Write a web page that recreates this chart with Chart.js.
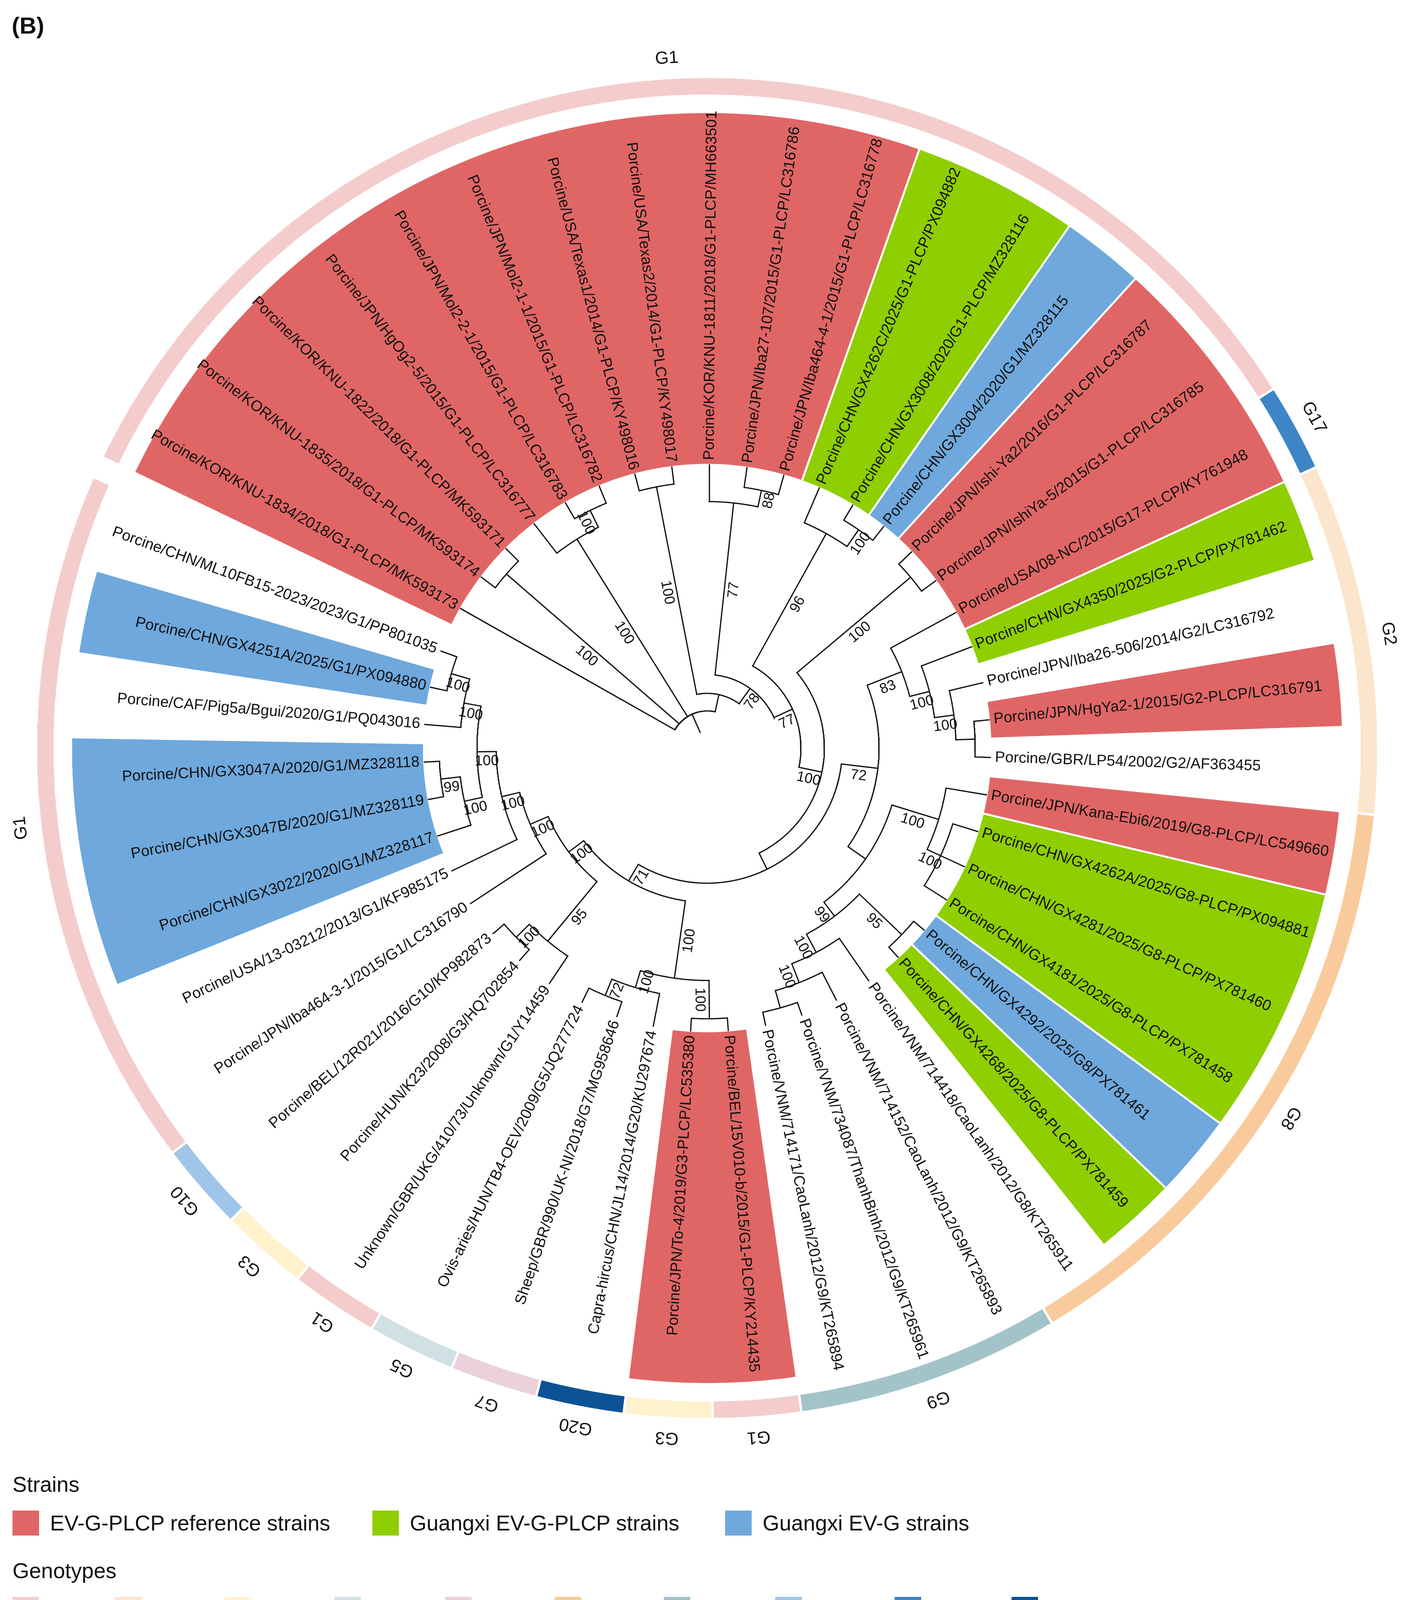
<!DOCTYPE html>
<html>
<head>
<meta charset="utf-8">
<title>EV-G phylogeny (B)</title>
<script src="https://cdn.jsdelivr.net/npm/chart.js@4.4.1/dist/chart.umd.min.js"></script>
<style>
html,body{margin:0;padding:0;background:#ffffff;}
body{width:3609px;height:4172px;position:relative;overflow:hidden;font-family:"Liberation Sans",Arial,sans-serif;color:#111;}
#chartBox{position:absolute;left:0;top:0;width:3609px;height:4172px;}
.lg{position:absolute;white-space:nowrap;font-size:55px;line-height:64px;height:64px;}
.sw{position:absolute;width:68px;height:64px;}
#panel{position:absolute;left:30px;top:34px;font-size:60px;font-weight:bold;line-height:64px;}
</style>
</head>
<body>
<div id="chartBox"><canvas id="tree"></canvas></div>
<div id="panel">(B)</div>
<div id="legend"></div>
<script>
// ---------------- DATA ----------------
const leafNames = [
  "Porcine/KOR/KNU-1834/2018/G1-PLCP/MK593173",
  "Porcine/KOR/KNU-1835/2018/G1-PLCP/MK593174",
  "Porcine/KOR/KNU-1822/2018/G1-PLCP/MK593171",
  "Porcine/JPN/HgOg2-5/2015/G1-PLCP/LC316777",
  "Porcine/JPN/Mol2-2-1/2015/G1-PLCP/LC316783",
  "Porcine/JPN/Mol2-1-1/2015/G1-PLCP/LC316782",
  "Porcine/USA/Texas1/2014/G1-PLCP/KY498016",
  "Porcine/USA/Texas2/2014/G1-PLCP/KY498017",
  "Porcine/KOR/KNU-1811/2018/G1-PLCP/MH663501",
  "Porcine/JPN/Iba27-107/2015/G1-PLCP/LC316786",
  "Porcine/JPN/Iba464-4-1/2015/G1-PLCP/LC316778",
  "Porcine/CHN/GX4262C/2025/G1-PLCP/PX094882",
  "Porcine/CHN/GX3008/2020/G1-PLCP/MZ328116",
  "Porcine/CHN/GX3004/2020/G1/MZ328115",
  "Porcine/JPN/Ishi-Ya2/2016/G1-PLCP/LC316787",
  "Porcine/JPN/IshiYa-5/2015/G1-PLCP/LC316785",
  "Porcine/USA/08-NC/2015/G17-PLCP/KY761948",
  "Porcine/CHN/GX4350/2025/G2-PLCP/PX781462",
  "Porcine/JPN/Iba26-506/2014/G2/LC316792",
  "Porcine/JPN/HgYa2-1/2015/G2-PLCP/LC316791",
  "Porcine/GBR/LP54/2002/G2/AF363455",
  "Porcine/JPN/Kana-Ebi6/2019/G8-PLCP/LC549660",
  "Porcine/CHN/GX4262A/2025/G8-PLCP/PX094881",
  "Porcine/CHN/GX4281/2025/G8-PLCP/PX781460",
  "Porcine/CHN/GX4181/2025/G8-PLCP/PX781458",
  "Porcine/CHN/GX4292/2025/G8/PX781461",
  "Porcine/CHN/GX4268/2025/G8-PLCP/PX781459",
  "Porcine/VNM/714418/CaoLanh/2012/G8/KT265911",
  "Porcine/VNM/714152/CaoLanh/2012/G9/KT265893",
  "Porcine/VNM/734087/ThanhBinh/2012/G9/KT265961",
  "Porcine/VNM/714171/CaoLanh/2012/G9/KT265894",
  "Porcine/BEL/15V010-b/2015/G1-PLCP/KY214435",
  "Porcine/JPN/To-4/2019/G3-PLCP/LC535380",
  "Capra-hircus/CHN/JL14/2014/G20/KU297674",
  "Sheep/GBR/990/UK-NI/2018/G7/MG958646",
  "Ovis-aries/HUN/TB4-OEV/2009/G5/JQ277724",
  "Unknown/GBR/UKG/410/73/Unknown/G1/Y14459",
  "Porcine/HUN/K23/2008/G3/HQ702854",
  "Porcine/BEL/12R021/2016/G10/KP982873",
  "Porcine/JPN/Iba464-3-1/2015/G1/LC316790",
  "Porcine/USA/13-03212/2013/G1/KF985175",
  "Porcine/CHN/GX3022/2020/G1/MZ328117",
  "Porcine/CHN/GX3047B/2020/G1/MZ328119",
  "Porcine/CHN/GX3047A/2020/G1/MZ328118",
  "Porcine/CAF/Pig5a/Bgui/2020/G1/PQ043016",
  "Porcine/CHN/GX4251A/2025/G1/PX094880",
  "Porcine/CHN/ML10FB15-2023/2023/G1/PP801035"
];
// strain highlight per leaf: R = EV-G-PLCP reference, P = Guangxi EV-G-PLCP, B = Guangxi EV-G, '' = none
const leafStrain = ['R','R','R','R','R','R','R','R','R','R','R','P','P','B','R','R','R','P','','R','','R','P','P','P','B','P','','','','','R','R','','','','','','','','','B','B','B','','B',''];
// genotype ring (runs of leaves, 1-based)
const ringLabels    = ['G1','G17','G2','G8','G9','G1','G3','G20','G7','G5','G1','G3','G10','G1'];
const ringFirstLeaf = [1,17,18,22,29,32,33,34,35,36,37,38,39,40];
const ringLastLeaf  = [16,17,21,28,31,32,33,34,35,36,37,38,39,47];
// tree: leaves are leaf numbers, internal labels = bootstrap support, value after ':' = node depth (px from centre)
const treeNewick = "(1,(2,3)100:680,(4,(5,6)100:678)100:630,((7,8)100:681,((9,(10,11)88:674)77:631,((12,(13,14)100:680)96:628,((15,16)100:680,(((17,(18,(19,(20,21):686)100:637)100:587)83:535,((22,(23,24,25)100:658)100:620,((26,27)95:690,(28,(29,(30,31):691)100:645)100:593)99:540):495)72:440,(((32,33)100:693,(34,(35,36)72:685)100:640)100:595,((37,(38,39)100:688)95:641,(40,(41,((42,(43,44)99:686)100:636,(45,(46,47)100:682)100:633)100:589)100:540)100:493)100:443)71:395):346)100:300)77:240)78:188):140):95";
// legend
const strainKeys   = ['R','P','B'];
const strainLabels = ['EV-G-PLCP reference strains','Guangxi EV-G-PLCP strains','Guangxi EV-G strains'];
const strainColors = ['#E06666','#8FCE00','#6FA8DC'];
const genotypeKeys   = ['G1','G2','G3','G5','G7','G8','G9','G10','G17','G20'];
const genotypeColors = ['#F4CCCC','#FCE5CD','#FFF2CC','#D0E0E3','#EAD1DC','#F9CB9C','#A2C4C9','#9FC5E8','#3D85C6','#0B5394'];

// ---------------- LAYOUT ----------------
const W = 3609, H = 4172;
const CX = 1810, CY = 1915;
const TIP_R = 725, LABEL_R = 737, STUB_R = 44;
const WEDGE_IN = 725, WEDGE_OUT = 1628, RING_IN = 1670, RING_OUT = 1718, GLABEL_R = 1768;
const FIRST_ANGLE = 150.5, STEP = 7.62;
const FONT = '"Liberation Sans", Arial, sans-serif';

function leafAngle(k){ return FIRST_ANGLE - STEP*(k-1); }
function pt(r, a){ const t = a*Math.PI/180; return {x: CX + r*Math.cos(t), y: CY - r*Math.sin(t)}; }
function arcPts(r, a1, a2){
  const n = Math.max(2, Math.ceil(Math.abs(a2-a1)/0.4)+1), out = [];
  for (let i=0;i<n;i++) out.push(pt(r, a1 + (a2-a1)*i/(n-1)));
  return out;
}
function parseNewick(s){
  let i = 0;
  function node(){
    const n = {children: []};
    if (s[i] === '('){
      i++; n.children.push(node());
      while (s[i] === ','){ i++; n.children.push(node()); }
      i++;
    }
    let lab = '';
    while (i < s.length && !':,()'.includes(s[i])) lab += s[i++];
    n.label = lab;
    if (s[i] === ':'){ i++; let v=''; while (i < s.length && !',()'.includes(s[i])) v += s[i++]; n.r = parseFloat(v); }
    return n;
  }
  return node();
}
const root = parseNewick(treeNewick);
function place(n){
  if (!n.children.length){ n.leaf = parseInt(n.label,10); n.a = leafAngle(n.leaf); if (n.r === undefined) n.r = TIP_R; return; }
  n.children.forEach(place);
  n.a = (n.children[0].a + n.children[n.children.length-1].a)/2;
}
place(root);

const GAP = {x:null, y:null};
const treePts = [];
const supportLabels = [];
function addSeg(ps){ ps.forEach(p => treePts.push(p)); treePts.push(GAP); }
function walk(n, parentR){
  addSeg([pt(parentR, n.a), pt(n.r, n.a)]);
  if (n.children.length){
    if (n.label) supportLabels.push({r:(parentR + n.r)/2, a:n.a, text:n.label});
    addSeg(arcPts(n.r, n.children[0].a, n.children[n.children.length-1].a));
    n.children.forEach(c => walk(c, n.r));
  }
}
walk(root, STUB_R);

function sectorPolygon(rIn, rOut, aHi, aLo){
  const outer = arcPts(rOut, aHi, aLo);
  const inner = arcPts(rIn, aLo, aHi);
  const poly = outer.concat(inner);
  poly.push(outer[0]);
  return poly;
}

const datasets = [];
datasets.push({label:'tree', data: treePts, showLine:true, borderColor:'#111111', borderWidth:3.2,
  borderCapStyle:'square', pointRadius:0, fill:false, spanGaps:false, order:0});

// strain highlight wedges: contiguous runs of identical strain colour
let k = 0;
while (k < leafStrain.length){
  const s = leafStrain[k]; let e = k;
  while (e+1 < leafStrain.length && leafStrain[e+1] === s) e++;
  if (s){
    const col = strainColors[strainKeys.indexOf(s)];
    datasets.push({label:'wedge', data: sectorPolygon(WEDGE_IN, WEDGE_OUT, leafAngle(k+1)+STEP/2, leafAngle(e+1)-STEP/2),
      showLine:true, fill:'shape', backgroundColor: col, borderColor:'#ffffff', borderWidth:5, borderJoinStyle:'miter',
      pointRadius:0, order:3});
  }
  k = e+1;
}
// genotype ring
ringLabels.forEach((g, i) => {
  const col = genotypeColors[genotypeKeys.indexOf(g)];
  datasets.push({label:'ring', data: sectorPolygon(RING_IN, RING_OUT, leafAngle(ringFirstLeaf[i])+STEP/2, leafAngle(ringLastLeaf[i])-STEP/2),
    showLine:true, fill:'shape', backgroundColor: col, borderColor:'#ffffff', borderWidth:6, borderJoinStyle:'miter',
    pointRadius:0, order:3});
});

function isLeftHalf(a){ let t = ((a % 360) + 360) % 360; return t > 90 && t < 270; }

const textPlugin = {
  id: 'treeText',
  afterDatasetsDraw(chart){
    const ctx = chart.ctx, xs = chart.scales.x, ys = chart.scales.y;
    const px = p => ({x: xs.getPixelForValue(p.x), y: ys.getPixelForValue(p.y)});
    ctx.save();
    ctx.fillStyle = '#111111';
    // leaf labels
    ctx.font = '39px ' + FONT;
    ctx.textBaseline = 'middle';
    leafNames.forEach((name, i) => {
      const a = leafAngle(i+1), t = a*Math.PI/180, p = px(pt(LABEL_R, a));
      ctx.save(); ctx.translate(p.x, p.y);
      if (isLeftHalf(a)){ ctx.rotate(Math.PI - t); ctx.textAlign = 'right'; }
      else { ctx.rotate(-t); ctx.textAlign = 'left'; }
      ctx.fillText(name, 0, 0); ctx.restore();
    });
    // bootstrap supports
    ctx.font = '37px ' + FONT;
    ctx.textBaseline = 'top'; ctx.textAlign = 'center';
    supportLabels.forEach(s => {
      const t = s.a*Math.PI/180, p = px(pt(s.r, s.a));
      ctx.save(); ctx.translate(p.x, p.y);
      ctx.rotate(isLeftHalf(s.a) ? Math.PI - t : -t);
      ctx.fillText(s.text, 0, 6); ctx.restore();
    });
    // genotype ring labels
    ctx.font = '45px ' + FONT;
    ctx.textBaseline = 'middle'; ctx.textAlign = 'center';
    ringLabels.forEach((g, i) => {
      const a = (leafAngle(ringFirstLeaf[i]) + leafAngle(ringLastLeaf[i]))/2, t = a*Math.PI/180;
      const p = px(pt(GLABEL_R, a));
      ctx.save(); ctx.translate(p.x, p.y); ctx.rotate(Math.PI/2 - t);
      ctx.fillText(g, 0, 0); ctx.restore();
    });
    ctx.restore();
  }
};

new Chart(document.getElementById('tree'), {
  type: 'scatter',
  data: {datasets},
  options: {
    responsive: true, maintainAspectRatio: false, animation: false, events: [],
    layout: {padding: 0},
    scales: {
      x: {type:'linear', min:0, max:W, display:false},
      y: {type:'linear', min:0, max:H, reverse:true, display:false}
    },
    plugins: {legend:{display:false}, tooltip:{enabled:false}},
    elements: {line:{tension:0}}
  },
  plugins: [textPlugin]
});

// ---------------- LEGEND (HTML) ----------------
const legend = document.getElementById('legend');
function addDiv(cls, left, top, text, bg){
  const d = document.createElement('div'); d.className = cls;
  d.style.left = left + 'px'; d.style.top = top + 'px';
  if (text) d.textContent = text; if (bg) d.style.background = bg;
  legend.appendChild(d);
}
const strainSwatchX = [32, 953, 1856];
const genotypeSwatchX = [32, 295, 575, 856, 1139, 1420, 1699, 1984, 2290, 2589];
addDiv('lg', 32, 3768, 'Strains');
strainLabels.forEach((s, i) => { addDiv('sw', strainSwatchX[i], 3867, '', strainColors[i]); addDiv('lg', strainSwatchX[i]+96, 3867, s); });
addDiv('lg', 32, 3989, 'Genotypes');
genotypeKeys.forEach((g, i) => { addDiv('sw', genotypeSwatchX[i], 4088, '', genotypeColors[i]); addDiv('lg', genotypeSwatchX[i]+99, 4088, g); });
</script>
</body>
</html>
